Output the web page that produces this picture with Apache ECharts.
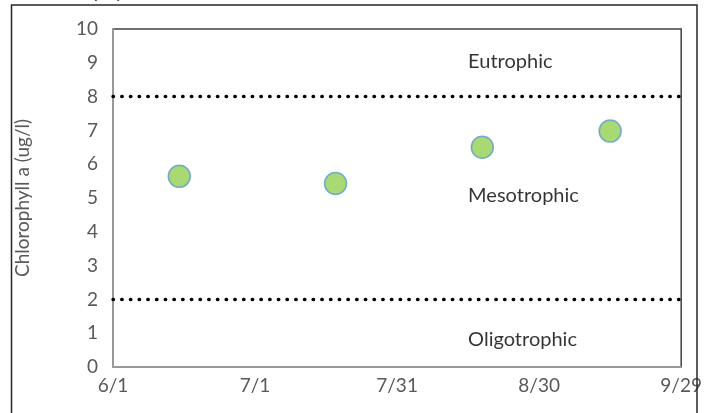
<!DOCTYPE html>
<html>
<head>
<meta charset="utf-8">
<script src="https://cdn.jsdelivr.net/npm/echarts@6/dist/echarts.min.js"></script>
<style>
  html, body { margin: 0; padding: 0; background: #fff; }
  #chart { width: 705px; height: 413px; }
</style>
</head>
<body>
<div id="chart"></div>
<script>
// ---- data ----
const startDate = '2014-06-01';
const sampleDates = ['2014-06-15', '2014-07-18', '2014-08-18', '2014-09-14'];
const chlorophyll = [5.64, 5.43, 6.5, 6.98];
const xTickLabels = ['6/1', '7/1', '7/31', '8/30', '9/29'];
const thresholds = [2, 8];
const zoneNames = ['Eutrophic', 'Mesotrophic', 'Oligotrophic'];
const zoneLabelX = ['2014-08-15', '2014-08-15', '2014-08-15'];
const zoneLabelY = [9.05, 5.07, 0.8];

const DAY = 86400000;
function dayOffset(s) { return Math.round((Date.parse(s) - Date.parse(startDate)) / DAY); }

const scatterData = sampleDates.map((d, i) => [dayOffset(d), chlorophyll[i]]);
const labelData = zoneNames.map((n, i) => ({ value: [dayOffset(zoneLabelX[i]), zoneLabelY[i]], name: n }));

const font = 'Lato, "Open Sans", sans-serif';
const chart = echarts.init(document.getElementById('chart'), null, { renderer: 'canvas' });
chart.setOption({
  animation: false,
  backgroundColor: '#fff',
  grid: { left: 113, right: 22, top: 29, bottom: 46, show: true, borderColor: '#404040', borderWidth: 1.5, backgroundColor: 'transparent' },
  xAxis: {
    type: 'value', min: 0, max: 120, interval: 30,
    axisLine: { show: true, lineStyle: { color: '#a6a6a6', width: 1.5 } },
    axisTick: { show: false },
    splitLine: { show: false },
    axisLabel: { color: '#595959', fontSize: 19, fontFamily: font, margin: 9,
      formatter: (v) => xTickLabels[Math.round(v / 30)] }
  },
  yAxis: {
    type: 'value', min: 0, max: 10, interval: 1,
    name: 'Chlorophyll a (ug/l)', nameLocation: 'middle', nameGap: 81,
    nameTextStyle: { color: '#595959', fontSize: 19, fontFamily: font },
    axisLine: { show: true, lineStyle: { color: '#a6a6a6', width: 1.5 } },
    axisTick: { show: false },
    splitLine: { show: false },
    axisLabel: { color: '#595959', fontSize: 19, fontFamily: font, margin: 15 }
  },
  graphic: [
    { type: 'rect', shape: { x: 11.5, y: 5, width: 685.5, height: 430 }, style: { fill: 'none', stroke: '#262626', lineWidth: 1.5 }, z: 100 },
    { type: 'text', left: 38, top: -18, style: { text: 'Chlorophyll a', fill: '#404040', font: '19px ' + font } }
  ],
  series: [
    {
      type: 'scatter', data: scatterData, symbol: 'circle', symbolSize: 22, z: 5,
      itemStyle: { color: '#92D050', borderColor: '#5B9BD5', borderWidth: 1.5 },
      markLine: {
        silent: true, symbol: ['none', 'none'], label: { show: false },
        lineStyle: { color: '#000', width: 3.4, type: [0.5, 8.2], cap: 'round' },
        data: thresholds.map(t => ({ yAxis: t }))
      }
    },
    {
      type: 'scatter', data: labelData, symbolSize: 0, silent: true,
      label: { show: true, position: 'right', distance: 0, color: '#000', fontSize: 20, fontFamily: font,
        formatter: (p) => p.name }
    }
  ]
});
</script>
</body>
</html>
